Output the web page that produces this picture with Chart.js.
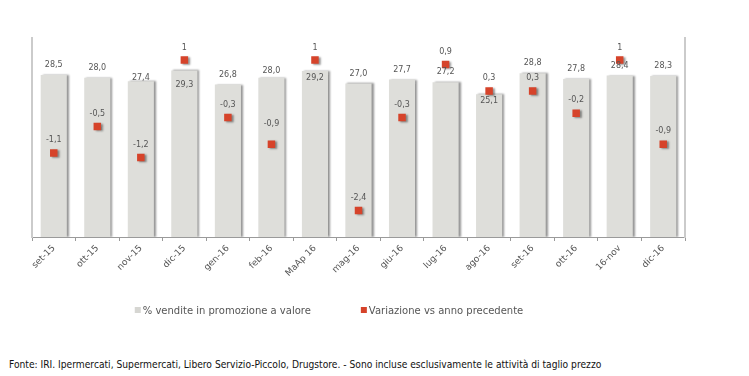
<!DOCTYPE html>
<html><head><meta charset="utf-8">
<script src="https://cdn.jsdelivr.net/npm/chart.js@4.4.0/dist/chart.umd.min.js"></script>
<style>
html,body{margin:0;padding:0;background:#fff;}
#wrap{position:relative;width:749px;height:376px;overflow:hidden;background:#fff;}
#c{position:absolute;left:0;top:0;}
#foot{position:absolute;left:9px;top:358px;font-family:"DejaVu Sans Condensed","Liberation Sans",Arial,sans-serif;font-size:10px;line-height:14px;color:#111;white-space:nowrap;}
</style></head><body>
<div id="wrap"><canvas id="c" width="749" height="350"></canvas>
<div id="foot">Fonte: IRI. Ipermercati, Supermercati, Libero Servizio-Piccolo, Drugstore. - Sono incluse esclusivamente le attività di taglio prezzo</div></div>
<script>
const categories = ['set-15','ott-15','nov-15','dic-15','gen-16','feb-16','MaAp 16','mag-16','giu-16','lug-16','ago-16','set-16','ott-16','16-nov','dic-16'];
const promoValues = [28.5, 28.0, 27.4, 29.3, 26.8, 28.0, 29.2, 27.0, 27.7, 27.2, 25.1, 28.8, 27.8, 28.4, 28.3];
const variationValues = [-1.1, -0.5, -1.2, 1, -0.3, -0.9, 1, -2.4, -0.3, 0.9, 0.3, 0.3, -0.2, 1, -0.9];
const seriesNames = ['% vendite in promozione a valore', 'Variazione vs anno precedente'];

// style: label placement relative to mark (px)
const barLabelShift = [-10,-10,-3.5,14.5,-10,-7,6.5,-10,-10,-10,6.5,-10,-10,-9.5,-10];
const pointLabelShift = [-13,-13,-12,-12,-13,-20,-12,-13,-13,-13,-13,-13,-13,-12,-13];

const BAR_COLOR = '#dededa';
const MARK_COLOR = '#d6432a';
const TEXT_COLOR = '#555555';
const FONT = '"DejaVu Sans", Verdana, sans-serif';

// fit footer to original width
(function(){
  const f = document.getElementById('foot');
  const w = f.getBoundingClientRect().width;
  if (w > 0) f.style.fontSize = (10 * 593 / w).toFixed(2) + 'px';
})();

const shadowPlugin = {
  id: 'shadowPlugin',
  beforeDatasetDraw(chart, args) {
    const ctx = chart.ctx;
    ctx.save();
    ctx.shadowColor = 'rgba(0,0,0,0.42)';
    ctx.shadowOffsetX = 2;
    ctx.shadowOffsetY = args.meta.type === 'bar' ? 0 : 1;
    ctx.shadowBlur = 2;
  },
  afterDatasetDraw(chart) { chart.ctx.restore(); }
};

const labelPlugin = {
  id: 'labelPlugin',
  afterDatasetsDraw(chart) {
    const ctx = chart.ctx;
    ctx.save();
    ctx.font = '8px ' + FONT;
    ctx.fillStyle = TEXT_COLOR;
    ctx.textAlign = 'center';
    ctx.textBaseline = 'middle';
    chart.data.datasets.forEach((ds, di) => {
      const meta = chart.getDatasetMeta(di);
      meta.data.forEach((el, i) => {
        const v = ds.data[i];
        let txt, dy;
        if (meta.type === 'bar') {
          txt = v.toFixed(1).replace('.', ',');
          dy = barLabelShift[i];
        } else {
          txt = String(v).replace('.', ',');
          dy = pointLabelShift[i];
        }
        ctx.fillText(txt, el.x, el.y + dy);
      });
    });
    ctx.restore();
  }
};

const legendPlugin = {
  id: 'legendPlugin',
  afterDraw(chart) {
    const ctx = chart.ctx;
    ctx.save();
    ctx.font = '10px ' + FONT;
    ctx.textBaseline = 'middle';
    ctx.textAlign = 'left';
    const y = 311;
    const gap = 50, box = 6, boxGap = 2;
    const items = chart.data.datasets
      .slice()
      .sort((a, b) => a.legendRank - b.legendRank)
      .map(ds => ({
        label: ds.label,
        color: ds.legendColor,
        w: box + boxGap + ctx.measureText(ds.label).width
      }));
    const total = items.reduce((s, it) => s + it.w, 0) + gap * (items.length - 1);
    let x = 329 - total / 2;
    items.forEach(it => {
      ctx.fillStyle = it.color;
      ctx.fillRect(x, y - box / 2 - 1, box, box);
      ctx.fillStyle = TEXT_COLOR;
      ctx.fillText(it.label, x + box + boxGap, y);
      x += it.w + gap;
    });
    ctx.restore();
  }
};

new Chart(document.getElementById('c'), {
  type: 'bar',
  data: {
    labels: categories,
    datasets: [
      {
        type: 'line',
        label: seriesNames[1],
        data: variationValues,
        yAxisID: 'y1',
        showLine: false,
        pointStyle: 'rect',
        pointRadius: 5.3,
        pointBackgroundColor: MARK_COLOR,
        pointBorderWidth: 0,
        pointBorderColor: MARK_COLOR,
        legendColor: MARK_COLOR,
        legendRank: 1,
        order: 0
      },
      {
        type: 'bar',
        label: seriesNames[0],
        data: promoValues,
        yAxisID: 'y',
        backgroundColor: BAR_COLOR,
        borderWidth: 0,
        barPercentage: 0.6,
        categoryPercentage: 1.0,
        legendColor: '#d6d6d2',
        legendRank: 0,
        order: 1
      }
    ]
  },
  options: {
    responsive: false,
    animation: false,
    devicePixelRatio: 1,
    layout: { padding: { top: 38, left: 32, right: 64, bottom: 53 } },
    plugins: {
      legend: { display: false },
      tooltip: { enabled: false },
      title: { display: false }
    },
    scales: {
      x: {
        offset: true,
        grid: { display: true, drawOnChartArea: false, drawTicks: true, tickLength: 4, offset: true, color: '#9a9a9a', lineWidth: 1 },
        border: { display: true, color: '#9a9a9a', width: 1 },
        ticks: {
          autoSkip: false, minRotation: 45, maxRotation: 45, padding: 2,
          color: TEXT_COLOR, font: { family: FONT, size: 9 }
        },
        afterFit: (s) => { s.height = 60; }
      },
      y: {
        position: 'left',
        min: 0, max: 35,
        grid: { display: false, drawTicks: false },
        border: { display: true, color: '#cbcbcb', width: 2 },
        ticks: { display: false }
      },
      y1: {
        position: 'right',
        min: -3, max: 1.5,
        grid: { display: false, drawTicks: false },
        border: { display: true, color: '#cbcbcb', width: 2 },
        ticks: { display: false }
      }
    }
  },
  plugins: [shadowPlugin, labelPlugin, legendPlugin]
});
</script>
</body></html>
